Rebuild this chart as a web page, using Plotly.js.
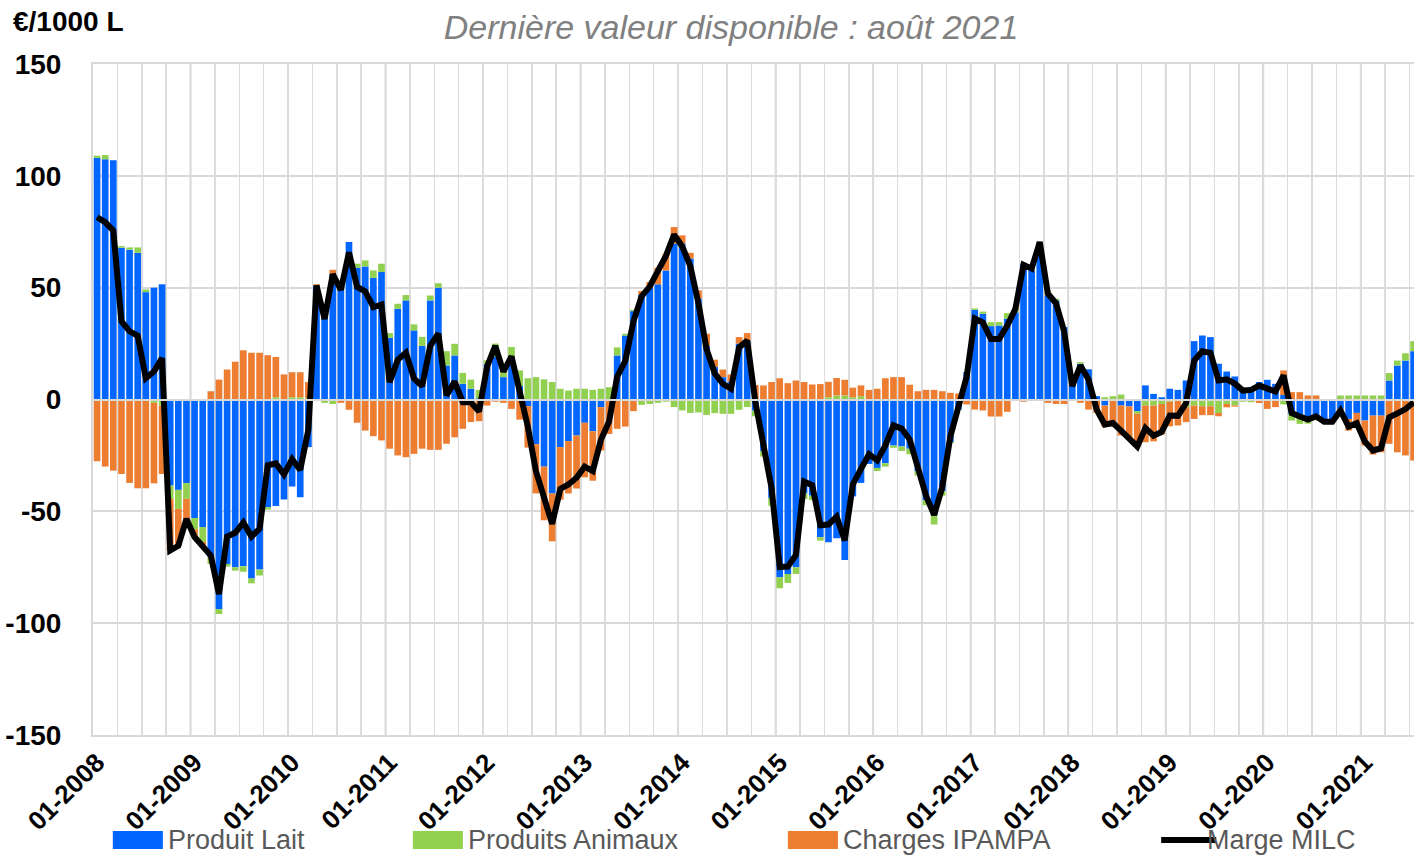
<!DOCTYPE html>
<html>
<head>
<meta charset="utf-8">
<script src="https://cdn.plot.ly/plotly-3.0.1.min.js"></script>
<style>
  html, body { margin: 0; padding: 0; background: #ffffff; overflow: hidden; }
  #chart { width: 1414px; height: 855px; }
</style>
</head>
<body>
<div id="chart"></div>
<script>
// Monthly categories, 01-2008 to 07-2021 (visible part of the chart)
const months = [];
for (let y = 2008; y <= 2021; y++) {
  for (let m = 1; m <= 12; m++) {
    if (months.length < 163) months.push(String(m).padStart(2, '0') + '-' + y);
  }
}

const tickLabels = ['01-2008','01-2009','01-2010','01-2011','01-2012','01-2013','01-2014',
                    '01-2015','01-2016','01-2017','01-2018','01-2019','01-2020','01-2021'];
const yTickVals = [-150, -100, -50, 0, 50, 100, 150];
const yTickText = ['-150', '-100', '-50', '0', '50', '100', '150'];

// Produit Lait (€/1000 L)
const produitLait = [
  108, 107.4, 107, 67.9, 67, 65.6, 48, 50, 51.5, -38.5, -40.4, -37.4,
  -53, -57, -70.5, -93.7, -73.5, -75, -74.6, -80, -76, -48.2, -47.6, -44.7,
  -38.9, -43.7, -21.3, 51, 37.5, 56, 50.5, 70.4, 58.9, 59.5, 54.4, 57,
  27.6, 40.6, 44.3, 30.9, 24, 44.3, 50, 15.2, 19.7, 7, 4.8, 0.5,
  16, 19, 10, 19, 6, -3, -20, -30, -42, -21.3, -18.6, -16.1,
  -10.4, -14.2, -3.4, 0, 19.7, 28.6, 39.5, 47, 50, 51.5, 57.7, 69.7,
  69.7, 63, 45, 24, 14.5, 10, 8, 25, 26, -5, -23, -44,
  -79.5, -78, -75, -42, -43, -61.6, -63.8, -62, -71.8, -43.3, -37.3, -28.8,
  -30.6, -28.5, -20.6, -21, -22, -32, -45, -51.9, -41, -19, -4.5, 12.3,
  40.1, 38.3, 32.8, 33.1, 36.1, 39, 60.7, 57.7, 68.1, 46.5, 44.3, 32.4,
  6.5, 16, 13.5, 1.5, -2.7, 0, -2.7, -3.1, -5.2, 6.3, 2.5, 1,
  4.8, 4.3, 8.5, 26.1, 28.6, 27.9, 16, 12.5, 10.3, 5, 5.5, 7.8,
  8.8, 7, 2, -6.4, -7.9, -9, -7, -9, -9, -4.2, -8.7, -6,
  -9.4, -7.2, -7.2, 8.5, 15.2, 17.4, 21.6
];

// Produits Animaux (€/1000 L)
const produitsAnimaux = [
  1, 1.9, 0, 0.7, 1, 2.4, 1.2, -1.5, -2.7, -6, -8.5, -7,
  -5, -6.7, -3, -2.2, -1.2, -1.5, -2.4, -2.2, -2.7, -1, 1, 0,
  1, 1, 0.5, -0.5, -1.5, -2, 0, 0, 1.8, 2.7, 3.3, 3.7,
  2.1, 2.2, 2.4, 2.7, 4, 2.2, 2, 6.4, 5.2, 4.9, 4.1, 3.8,
  1.5, 6, 4, 4.5, 7, 9.5, 10, 9, 7.8, 4.8, 4, 4.8,
  4.8, 4.3, 4.8, 5.5, 3.6, 0.8, 0.6, -2.4, -2, -1.5, -1, -3.4,
  -4.9, -6, -5.8, -6.9, -6.1, -6.4, -6.4, -4.6, -3.4, -2.5, -2.5, -3.5,
  -4.9, -4, -3, -2.5, -2, -1.5, 1, 1.8, 1.8, 1, 1.5, 0,
  -1.4, -1.5, -1, -2, -2.5, -2, -2.3, -4, -2, -0.5, -0.2, 0,
  0.6, 1, 1.8, 1.5, 2.5, 2, 0.5, 0.8, 2.3, 2.3, 0.7, 0,
  0, 0.7, 0, 0, 1, 1.5, 2.2, 0, -1.2, -2.7, -2.7, -2,
  -1, 0, -3.4, -2.7, -3, -3, -6, -2, -2.7, -1, -1.2, 0,
  0, 0, -2.2, -3, -3, -1.8, -2.3, -1, -1, 1.8, 1.8, 1.8,
  1.8, 1.8, 1.8, 3.3, 2.2, 3.3, 4.5
];

// Charges IPAMPA (€/1000 L)
const chargesIpampa = [
  -27.6, -30, -31.8, -33.3, -37.3, -39.7, -39.7, -36, -30.6, -23, -16.5, -9,
  -3.5, -2, 3.7, 8.9, 13.4, 16.9, 22, 20.9, 20.9, 19.8, 18, 11.2,
  11.2, 11.2, 7.3, 0.5, 0, 2, -1.5, -4.6, -10.4, -13.9, -16.4, -18.3,
  -22, -25, -25.8, -24.3, -22, -22.5, -22.5, -19.8, -16.9, -13.1, -10.1, -9.7,
  -2.7, -1, -1.5, -4.2, -9, -18.5, -22, -24, -21.4, -23.5, -23.4, -23.7,
  -24.4, -22.1, -19.4, -15.4, -13.1, -12.1, -5.2, 1.5, 2.5, 7.4, 7.5, 7.4,
  3.7, 2.6, 3.8, 5.4, 3.3, 3.4, 3.2, 2.9, 3.7, 6.5, 6.3, 7.8,
  9.5, 7.3, 8.5, 7.8, 6.7, 6.9, 6.9, 7.8, 7, 4.3, 4.8, 4.3,
  4.8, 9.5, 10, 10, 6.6, 3.7, 4.3, 4.3, 3.7, 3, 2.7, -2.2,
  -4.5, -4.9, -7.6, -7.6, -5.5, -0.5, -1, 0, 0, -1.5, -2, -2,
  -0.5, -1.5, -4.5, -6, -9.5, -12, -13.4, -14, -14.6, -16.4, -16, -13.5,
  -11, -11.6, -6.7, -6, -4, -4, -1.5, -1.5, -0.5, 0, 0, -1.6,
  -4.2, -3.4, 11, 3.3, 3.3, 1.8, 1.8, 0, 0, -2.5, -5.2, -6.4,
  -11.2, -17.4, -16.4, -19.8, -23.6, -25, -27.3
];

// Marge MILC (€/1000 L)
const margeMilc = [
  81.5, 79.3, 75.5, 35, 30.5, 28.5, 9.5, 12.5, 18.5, -67.5, -65.4, -53.4,
  -61.5, -65.7, -69.8, -87, -61.3, -59.6, -55, -61.3, -57.8, -29.4, -28.6, -33.5,
  -26.7, -31.5, -13.5, 51, 36, 56, 49, 65.8, 50.3, 48.3, 41.3, 42.4,
  7.7, 17.8, 20.9, 9.3, 6, 24, 29.5, 1.8, 8, -1.2, -1.2, -5.4,
  14.8, 24, 12.5, 19.3, 4, -12, -32, -45, -55.6, -40, -38, -35,
  -30, -32, -18, -9.9, 10.2, 17.3, 34.9, 46.1, 50.5, 57.4, 64.2, 73.7,
  68.5, 59.6, 43, 22.5, 11.7, 7, 4.8, 23.3, 26.3, -1, -19.2, -39.7,
  -74.9, -74.7, -69.5, -36.7, -38.3, -56.2, -55.9, -52.4, -63, -38, -31, -24.5,
  -27.2, -20.5, -11.6, -13, -17.9, -30.3, -43, -51.6, -39.3, -16.5, -2, 10.1,
  36.2, 34.4, 27, 27, 33.1, 40.5, 60.2, 58.5, 70.4, 47.3, 43, 30.4,
  6, 15.2, 9, -4.5, -11.2, -10.5, -13.9, -17.1, -21, -12.8, -16.2, -14.5,
  -7.2, -7.3, -1.6, 17.4, 21.6, 20.9, 8.5, 9, 7.1, 4, 4.3, 6.2,
  4.6, 3.6, 10.8, -6.1, -7.6, -9, -7.5, -10, -10, -4.9, -12.1, -10.6,
  -18.8, -22.8, -21.8, -8, -6.2, -4.3, -1.2
];

const seriesNames = ['Produit Lait', 'Produits Animaux', 'Charges IPAMPA', 'Marge MILC'];
const colors = { lait: '#0066FF', animaux: '#92D050', charges: '#ED7D31', marge: '#000000' };

// Quarterly gridlines (drawn at category boundaries), yearly labels
const quarterTicks = months.filter(m => ['01', '04', '07', '10'].includes(m.slice(0, 2)));
const quarterText = quarterTicks.map(m => tickLabels.includes(m) ? m : '');

const FONT = 'Liberation Sans, Arial, sans-serif';

const traces = [
  { type: 'bar', name: seriesNames[0], x: months, y: produitLait,
    marker: { color: colors.lait }, hoverinfo: 'x+y+name' },
  { type: 'bar', name: seriesNames[1], x: months, y: produitsAnimaux,
    marker: { color: colors.animaux }, hoverinfo: 'x+y+name' },
  { type: 'bar', name: seriesNames[2], x: months, y: chargesIpampa,
    marker: { color: colors.charges }, hoverinfo: 'x+y+name' },
  { type: 'scatter', mode: 'lines', name: seriesNames[3], x: months, y: margeMilc,
    line: { color: colors.marge, width: 6 }, hoverinfo: 'x+y+name' }
];

// slightly darker gridlines at each year boundary (derived from the category positions)
const yearLines = tickLabels.slice(1).map(lbl => {
  const idx = months.indexOf(lbl) - 0.5;
  return { type: 'line', xref: 'x', yref: 'paper', x0: idx, x1: idx, y0: 0, y1: 1,
           layer: 'below', line: { color: '#c4c4c4', width: 1.8 } };
});

// custom legend geometry (paper coords)
const legY0 = -0.1431, legY1 = -0.1699, legYm = -0.1565;
const legendItems = [
  { x0: 0.0150, x1: 0.0529, tx: 0.0555, color: colors.lait, label: seriesNames[0], kind: 'rect' },
  { x0: 0.2421, x1: 0.2800, tx: 0.2826, color: colors.animaux, label: seriesNames[1], kind: 'rect' },
  { x0: 0.5260, x1: 0.5639, tx: 0.5665, color: colors.charges, label: seriesNames[2], kind: 'rect' },
  { x0: 0.8086, x1: 0.8503, tx: 0.8420, color: colors.marge, label: seriesNames[3], kind: 'line' }
];

const legendShapes = legendItems.map(it => it.kind === 'rect'
  ? { type: 'rect', xref: 'paper', yref: 'paper', x0: it.x0, x1: it.x1, y0: legY0, y1: legY1,
      fillcolor: it.color, line: { width: 0 } }
  : { type: 'line', xref: 'paper', yref: 'paper', x0: it.x0, x1: it.x1, y0: legYm, y1: legYm,
      line: { color: it.color, width: 6 } });

const annotations = legendItems.map(it => ({
  xref: 'paper', yref: 'paper', x: it.tx, y: legYm, xanchor: 'left', yanchor: 'middle',
  text: it.label, showarrow: false,
  font: { family: FONT, size: 27, color: '#595959' }
}));
annotations.push({
  xref: 'paper', yref: 'paper', x: -0.062, y: 1.064, xanchor: 'left', yanchor: 'middle',
  text: '€/1000 L', showarrow: false,
  font: { family: FONT, size: 28, color: '#000000', weight: 'bold' }
});

const layout = {
  width: 1414, height: 855,
  margin: { l: 93, r: 0, t: 64, b: 120 },
  paper_bgcolor: '#ffffff', plot_bgcolor: '#ffffff',
  barmode: 'relative', bargap: 0.18,
  showlegend: false,
  title: {
    text: 'Dernière valeur disponible : août 2021',
    x: 0.517, xanchor: 'center', xref: 'container',
    y: 0.968, yanchor: 'middle', yref: 'container',
    font: { family: FONT, size: 34, color: '#808080', style: 'italic' }
  },
  xaxis: {
    type: 'category',
    range: [-0.5, 162.05],
    tickmode: 'array', tickvals: quarterTicks, ticktext: quarterText,
    tickson: 'boundaries',
    showgrid: true, gridcolor: '#dcdcdc', gridwidth: 1.5,
    ticks: 'outside', ticklen: 6, tickcolor: 'rgba(0,0,0,0)',
    tickangle: -45,
    tickfont: { family: FONT, size: 26, color: '#000000', weight: 'bold' },
    showline: true, linecolor: '#d9d9d9', linewidth: 2, mirror: true,
    zeroline: false, fixedrange: true
  },
  yaxis: {
    range: [-150, 150], autorange: false,
    tickmode: 'array', tickvals: yTickVals, ticktext: yTickText,
    showgrid: true, gridcolor: '#d9d9d9', gridwidth: 2,
    zeroline: true, zerolinecolor: '#d9d9d9', zerolinewidth: 2,
    zerolinelayer: 'above traces',
    ticks: 'outside', ticklen: 24, tickcolor: 'rgba(0,0,0,0)',
    tickfont: { family: FONT, size: 28, color: '#000000', weight: 'bold' },
    showline: true, linecolor: '#d9d9d9', linewidth: 2, mirror: true,
    fixedrange: true
  },
  shapes: yearLines.concat(legendShapes),
  annotations: annotations
};

Plotly.newPlot('chart', traces, layout, { displayModeBar: false, staticPlot: true });
</script>
</body>
</html>
